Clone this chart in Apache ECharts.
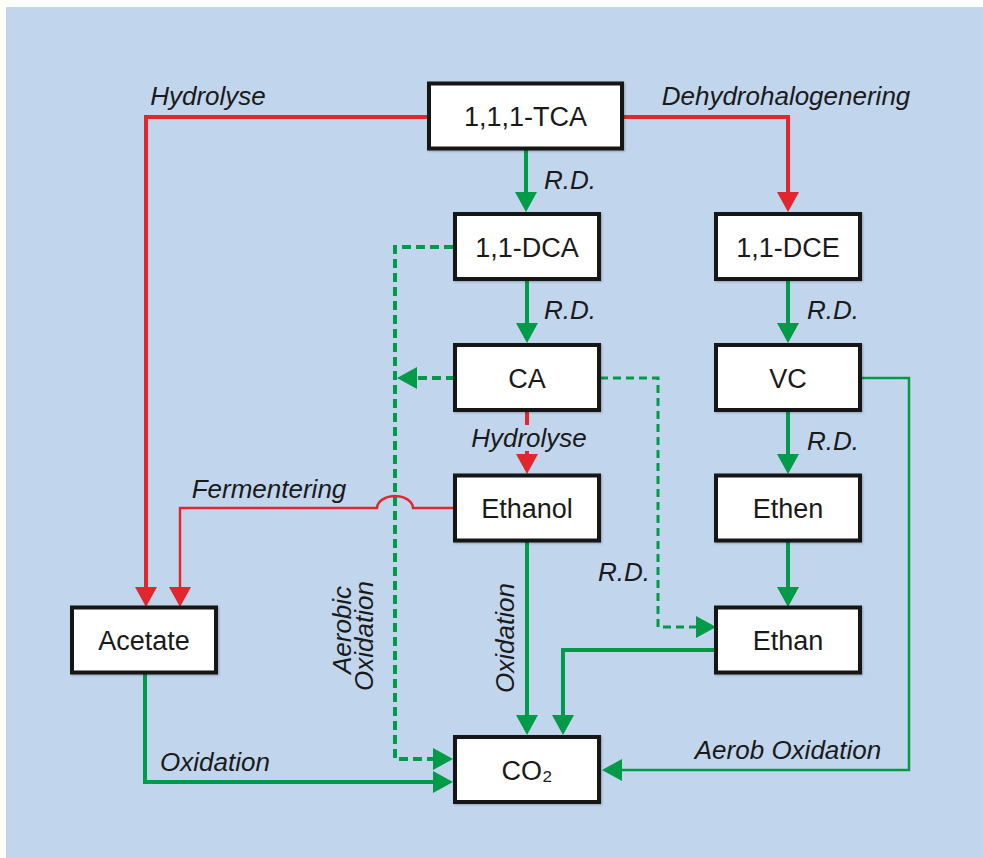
<!DOCTYPE html>
<html>
<head>
<meta charset="utf-8">
<script src="https://cdn.jsdelivr.net/npm/echarts@6/dist/echarts.min.js"></script>
<style>
  html, body { margin: 0; padding: 0; background: #ffffff; }
  #main { width: 983px; height: 858px; }
</style>
</head>
<body>
<div id="main"></div>
<script>
  // boxes of the scheme
  var nodeNames = ['1,1,1-TCA', '1,1-DCA', 'CA', 'Ethanol', 'CO₂', '1,1-DCE', 'VC', 'Ethen', 'Ethan', 'Acetate'];
  var nodeX = [525.5, 527, 527, 527, 527, 788, 788, 788, 788, 144];
  var nodeY = [116, 246.5, 377.5, 508, 769.5, 246.5, 377.5, 508, 640, 640];

  // routes between boxes: colour kind, dashed, arrow at end
  var edgeKind = ['red', 'red', 'red', 'redThin',
    'green', 'green', 'green', 'green', 'green', 'green', 'green', 'green', 'greenThin',
    'dash', 'dash', 'dashThin'];
  var edgePaths = [
    [[427, 117], [146, 117], [146, 607]],                 // Hydrolyse -> Acetate
    [[624, 117], [788, 117], [788, 212]],                 // Dehydrohalogenering
    [[527, 412], [527, 474]],                             // CA -> Ethanol
    [[455, 508], [413, 508], 'hump', [377, 508], [180, 508], [180, 607]], // Fermentering
    [[526, 150], [526, 212]],
    [[527, 281], [527, 343]],
    [[788, 281], [788, 343]],
    [[788, 412], [788, 474]],
    [[788, 542], [788, 607]],
    [[527, 542], [527, 735]],
    [[716, 650], [563, 650], [563, 735]],
    [[145, 673], [145, 782], [453, 782]],
    [[860, 378], [909, 378], [909, 770], [602, 770]],
    [[453, 247], [395, 247], [395, 759], [453, 759]],
    [[455, 378], [397, 378]],
    [[600, 378], [658, 378], [658, 627], [716, 627]]
  ];

  // italic process labels
  var labelTexts = ['Hydrolyse', 'Dehydrohalogenering', 'R.D.', 'R.D.', 'R.D.', 'R.D.', 'R.D.',
    'Hydrolyse', 'Fermentering', 'Oxidation', 'Aerob Oxidation', 'Aerobic', 'Oxidation', 'Oxidation'];
  var labelX = [208, 786, 570, 570, 833, 833, 624, 529, 269, 215, 788, 342, 364, 505];
  var labelY = [96, 96, 180, 310, 310, 441, 572, 438, 489, 762, 750, 630, 636, 638];
  var labelRot = [0, 0, 0, 0, 0, 0, 0, 0, 0, 0, 0, 90, 90, 90];

  var RED = '#e3262d';
  var GREEN = '#009b48';
  var BG = '#c1d6ed';
  var FONT = '"Liberation Sans", Arial, Helvetica, sans-serif';

  var kindStyle = {
    red: { color: RED, width: 4, dash: null },
    redThin: { color: RED, width: 2.5, dash: null },
    green: { color: GREEN, width: 4, dash: null },
    greenThin: { color: GREEN, width: 2.5, dash: null },
    dash: { color: GREEN, width: 4, dash: [9, 5] },
    dashThin: { color: GREEN, width: 3, dash: [8, 5] }
  };

  var chart = echarts.init(document.getElementById('main'), null, { renderer: 'svg' });

  function renderEdge(params, api) {
    var path = edgePaths[params.dataIndex];
    var st = kindStyle[edgeKind[params.dataIndex]];
    var pts = [];
    for (var i = 0; i < path.length; i++) {
      if (path[i] === 'hump') {
        // little bridge where the red line crosses the dashed one
        var a = path[i - 1], b = path[i + 1];
        var cx = (a[0] + b[0]) / 2, rx = Math.abs(a[0] - b[0]) / 2;
        for (var k = 1; k < 12; k++) {
          var t = Math.PI * k / 12;
          pts.push(api.coord([cx + rx * Math.cos(t), a[1] - 12 * Math.sin(t)]));
        }
      } else {
        pts.push(api.coord(path[i]));
      }
    }
    var tip = pts[pts.length - 1];
    var prev = pts[pts.length - 2];
    var dx = tip[0] - prev[0], dy = tip[1] - prev[1];
    var len = Math.sqrt(dx * dx + dy * dy);
    var ux = dx / len, uy = dy / len;
    var hl = 20, hw = 11;
    var line = pts.slice(0, -1);
    line.push([tip[0] - ux * hl * 0.6, tip[1] - uy * hl * 0.6]);
    var base = [tip[0] - ux * hl, tip[1] - uy * hl];
    return {
      type: 'group',
      children: [{
        type: 'polyline',
        shape: { points: line },
        style: { stroke: st.color, lineWidth: st.width, lineDash: st.dash, fill: null, lineJoin: 'miter' }
      }, {
        type: 'polygon',
        shape: { points: [tip, [base[0] - uy * hw, base[1] + ux * hw], [base[0] + uy * hw, base[1] - ux * hw]] },
        style: { fill: st.color }
      }]
    };
  }

  function renderBox(params, api) {
    var i = params.dataIndex;
    var w = i === 0 ? 193 : 144, h = 65;
    var p0 = api.coord([nodeX[i] - w / 2, nodeY[i] - h / 2]);
    var p1 = api.coord([nodeX[i] + w / 2, nodeY[i] + h / 2]);
    return {
      type: 'group',
      children: [{
        type: 'rect',
        shape: { x: p0[0], y: p0[1], width: p1[0] - p0[0], height: p1[1] - p0[1] },
        style: { fill: '#ffffff', stroke: '#161616', lineWidth: 4,
          shadowColor: 'rgba(0,0,0,0.25)', shadowBlur: 2, shadowOffsetX: 1, shadowOffsetY: 1 }
      }, {
        type: 'text',
        x: (p0[0] + p1[0]) / 2,
        y: (p0[1] + p1[1]) / 2 + 1,
        style: { text: nodeNames[i], fill: '#1a1a1a', font: '27px ' + FONT, align: 'center', verticalAlign: 'middle' }
      }]
    };
  }

  function renderLabel(params, api) {
    var i = params.dataIndex;
    var p = api.coord([labelX[i], labelY[i]]);
    var onLine = i === 7;
    return {
      type: 'text',
      x: p[0],
      y: p[1],
      rotation: labelRot[i] * Math.PI / 180,
      style: {
        text: labelTexts[i],
        fill: '#1a1a1a',
        font: 'italic 26px ' + FONT,
        align: 'center',
        verticalAlign: 'middle',
        backgroundColor: onLine ? BG : null,
        padding: 0
      }
    };
  }

  chart.setOption({
    animation: false,
    backgroundColor: '#ffffff',
    grid: { left: 0, right: 0, top: 0, bottom: 0 },
    xAxis: { type: 'value', min: 0, max: 983, show: false },
    yAxis: { type: 'value', min: 0, max: 858, inverse: true, show: false },
    graphic: [{
      type: 'rect', z: -10,
      shape: { x: 6, y: 7, width: 977, height: 851 },
      style: { fill: BG }
    }],
    series: [
      {
        type: 'custom', name: 'edges', z: 2,
        data: edgePaths.map(function (p) { return p[0]; }),
        renderItem: renderEdge, silent: true
      },
      {
        type: 'custom', name: 'labels', z: 3,
        data: labelX.map(function (x, i) { return [x, labelY[i]]; }),
        renderItem: renderLabel, silent: true
      },
      {
        type: 'custom', name: 'boxes', z: 4,
        data: nodeX.map(function (x, i) { return [x, nodeY[i]]; }),
        renderItem: renderBox, silent: true
      }
    ]
  });
</script>
</body>
</html>
